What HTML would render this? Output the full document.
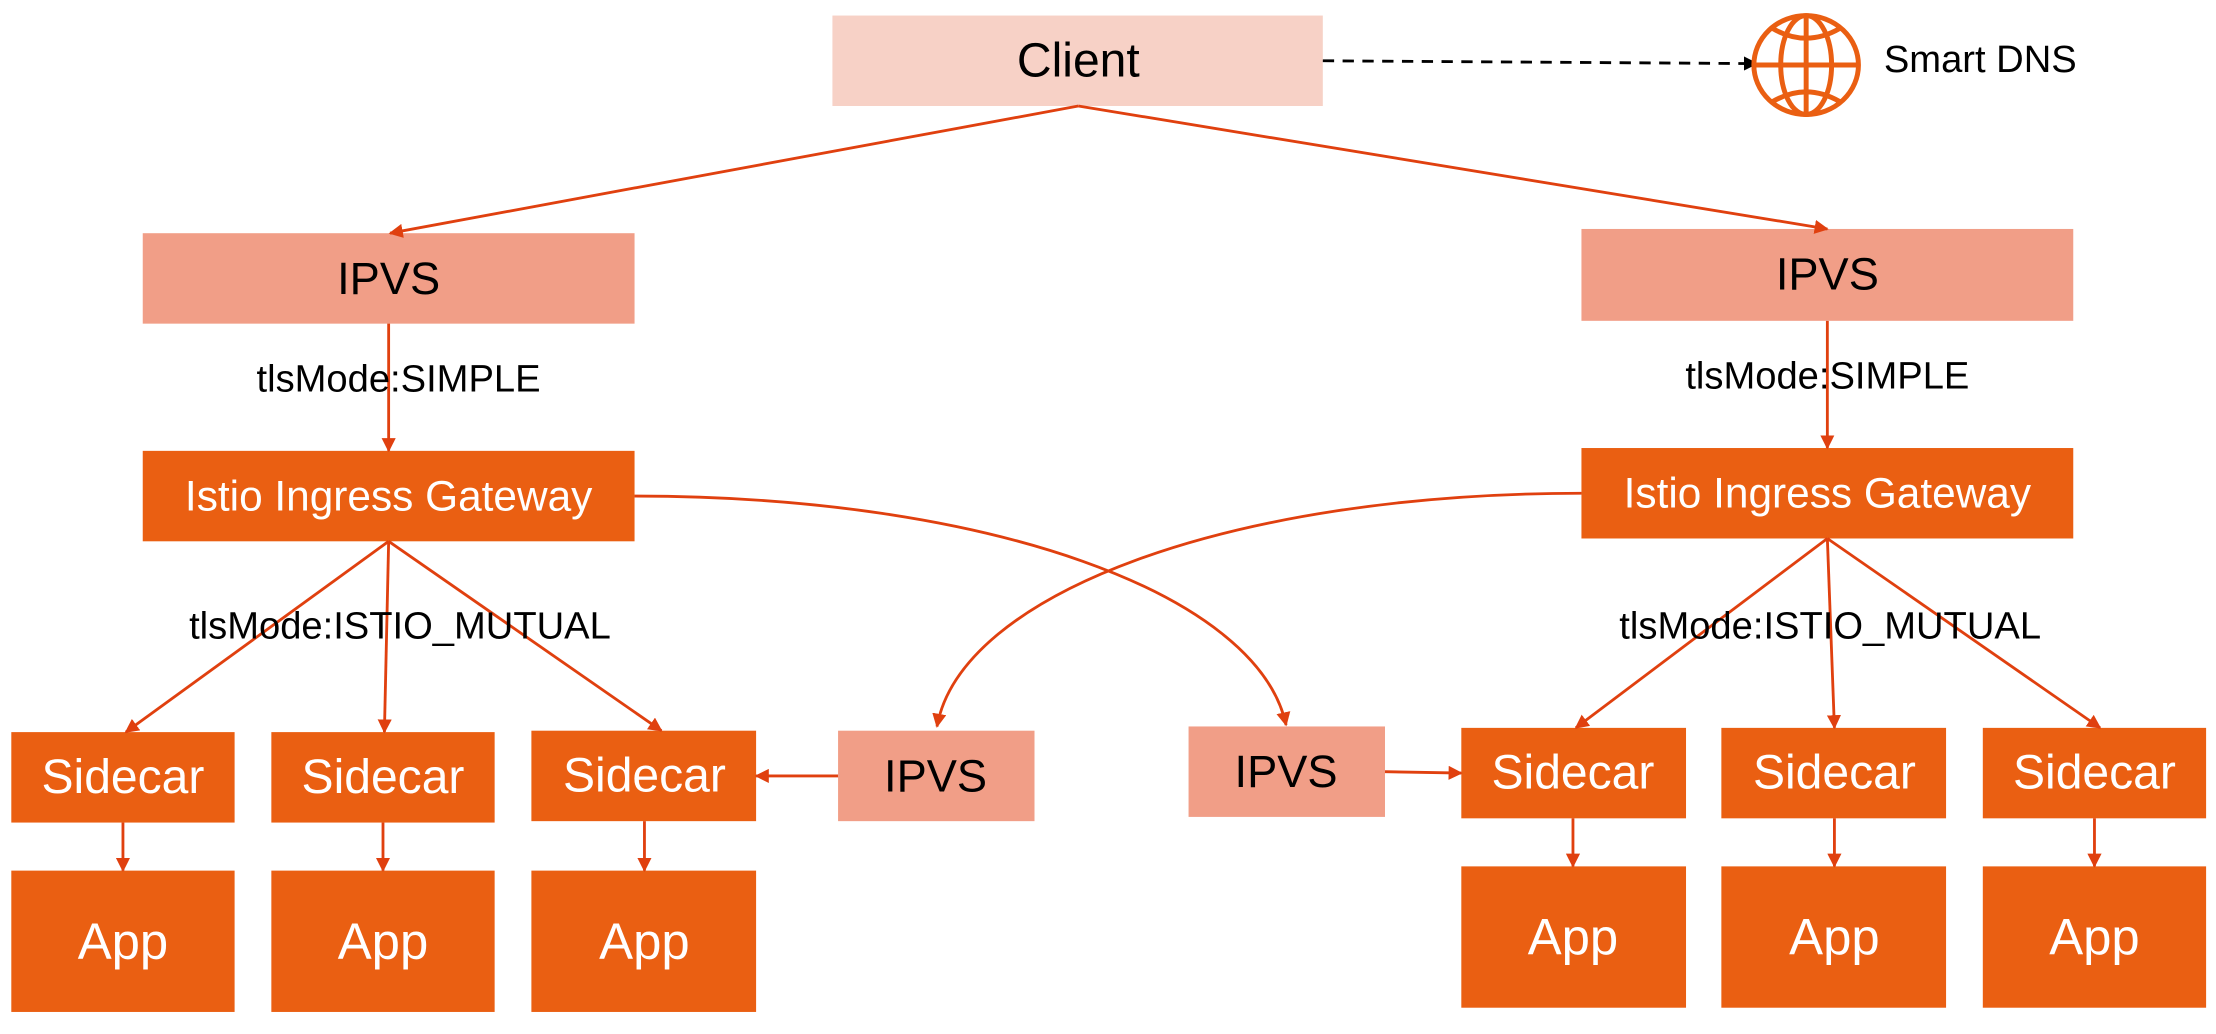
<!DOCTYPE html>
<html><head><meta charset="utf-8"><style>
html,body{margin:0;padding:0;background:#fff;}
svg{display:block;}
text{font-family:"Liberation Sans",sans-serif;}
</style></head><body>
<svg width="2216" height="1034" viewBox="0 0 1568 731.6" preserveAspectRatio="none" xmlns="http://www.w3.org/2000/svg">
<defs>
<marker id="a" markerWidth="10" markerHeight="10" refX="9" refY="5" orient="auto" markerUnits="userSpaceOnUse"><path d="M0,0 L10,5 L0,10 Z" fill="#E0400F"/></marker>
<marker id="b" markerWidth="10" markerHeight="10" refX="9" refY="5" orient="auto" markerUnits="userSpaceOnUse"><path d="M0,0 L10,5 L0,10 Z" fill="#000"/></marker>
</defs>
<rect width="1568" height="731.6" fill="#fff"/>
<rect x="589" y="11" width="347" height="64" fill="#F7D1C6"/>
<rect x="101" y="165" width="348" height="64" fill="#F19E87"/>
<rect x="1119" y="162" width="348" height="65" fill="#F19E87"/>
<rect x="101" y="319" width="348" height="64" fill="#EA5F12"/>
<rect x="1119" y="317" width="348" height="64" fill="#EA5F12"/>
<g fill="#EA5F12">
<rect x="8" y="518" width="158" height="64"/><rect x="192" y="518" width="158" height="64"/><rect x="376" y="517" width="159" height="64"/>
<rect x="1034" y="515" width="159" height="64"/><rect x="1218" y="515" width="159" height="64"/><rect x="1403" y="515" width="158" height="64"/>
<rect x="8" y="616" width="158" height="100"/><rect x="192" y="616" width="158" height="100"/><rect x="376" y="616" width="159" height="100"/>
<rect x="1034" y="613" width="159" height="100"/><rect x="1218" y="613" width="159" height="100"/><rect x="1403" y="613" width="158" height="100"/>
</g>
<rect x="593" y="517" width="139" height="64" fill="#F19E87"/>
<rect x="841" y="514" width="139" height="64" fill="#F19E87"/>
<g stroke="#E0400F" stroke-width="2" fill="none" marker-end="url(#a)">
<line x1="763" y1="75" x2="276" y2="165"/>
<line x1="763" y1="75" x2="1293" y2="162"/>
<line x1="275" y1="229" x2="275" y2="319"/>
<line x1="1293" y1="227" x2="1293" y2="317"/>
<line x1="275" y1="383" x2="89" y2="518"/>
<line x1="275" y1="383" x2="272" y2="518"/>
<line x1="275" y1="383" x2="468" y2="517"/>
<line x1="1293" y1="381" x2="1115" y2="515"/>
<line x1="1293" y1="381" x2="1298" y2="515"/>
<line x1="1293" y1="381" x2="1486" y2="515"/>
<line x1="87" y1="582" x2="87" y2="616"/>
<line x1="271" y1="582" x2="271" y2="616"/>
<line x1="456" y1="581" x2="456" y2="616"/>
<line x1="1113" y1="579" x2="1113" y2="613"/>
<line x1="1298" y1="579" x2="1298" y2="613"/>
<line x1="1482" y1="579" x2="1482" y2="613"/>
<line x1="593" y1="549" x2="535" y2="549"/>
<line x1="980" y1="546" x2="1034" y2="547"/>
<path d="M449,351 C700,351 890,420 910,513"/>
<path d="M1119,349 C870,349 680,420 663,514"/>
</g>
<line x1="936" y1="43" x2="1243" y2="45" stroke="#000" stroke-width="2" stroke-dasharray="8,6" marker-end="url(#b)"/>
<g stroke="#EA5F12" stroke-width="3.5" fill="none">
<ellipse cx="1278" cy="46" rx="37" ry="35"/>
<ellipse cx="1278" cy="46" rx="18" ry="35"/>
<line x1="1278" y1="11" x2="1278" y2="81"/>
<line x1="1241" y1="46" x2="1315" y2="46"/>
<path d="M1254,20 Q1278,34 1302,20"/>
<path d="M1254,72 Q1278,58 1302,72"/>
</g>
<g text-anchor="middle" dominant-baseline="central">
<text x="763" y="43" font-size="34" fill="#000">Client</text>
<text x="275" y="197" font-size="32" fill="#000">IPVS</text>
<text x="1293" y="194" font-size="32" fill="#000">IPVS</text>
<text x="282" y="268" font-size="27" fill="#000">tlsMode:SIMPLE</text>
<text x="1293" y="266" font-size="27" fill="#000">tlsMode:SIMPLE</text>
<text x="275" y="351" font-size="30" fill="#fff">Istio Ingress Gateway</text>
<text x="1293" y="349" font-size="30" fill="#fff">Istio Ingress Gateway</text>
<text x="283" y="443" font-size="27" fill="#000">tlsMode:ISTIO_MUTUAL</text>
<text x="1295" y="443" font-size="27" fill="#000">tlsMode:ISTIO_MUTUAL</text>
<text x="87" y="550" font-size="34" fill="#fff">Sidecar</text>
<text x="271" y="550" font-size="34" fill="#fff">Sidecar</text>
<text x="456" y="549" font-size="34" fill="#fff">Sidecar</text>
<text x="1113" y="547" font-size="34" fill="#fff">Sidecar</text>
<text x="1298" y="547" font-size="34" fill="#fff">Sidecar</text>
<text x="1482" y="547" font-size="34" fill="#fff">Sidecar</text>
<text x="87" y="666" font-size="36" fill="#fff">App</text>
<text x="271" y="666" font-size="36" fill="#fff">App</text>
<text x="456" y="666" font-size="36" fill="#fff">App</text>
<text x="1113" y="663" font-size="36" fill="#fff">App</text>
<text x="1298" y="663" font-size="36" fill="#fff">App</text>
<text x="1482" y="663" font-size="36" fill="#fff">App</text>
<text x="662" y="549" font-size="32" fill="#000">IPVS</text>
<text x="910" y="546" font-size="32" fill="#000">IPVS</text>
</g>
<text x="1333" y="42" font-size="27" fill="#000" dominant-baseline="central">Smart DNS</text>
</svg>
</body></html>
